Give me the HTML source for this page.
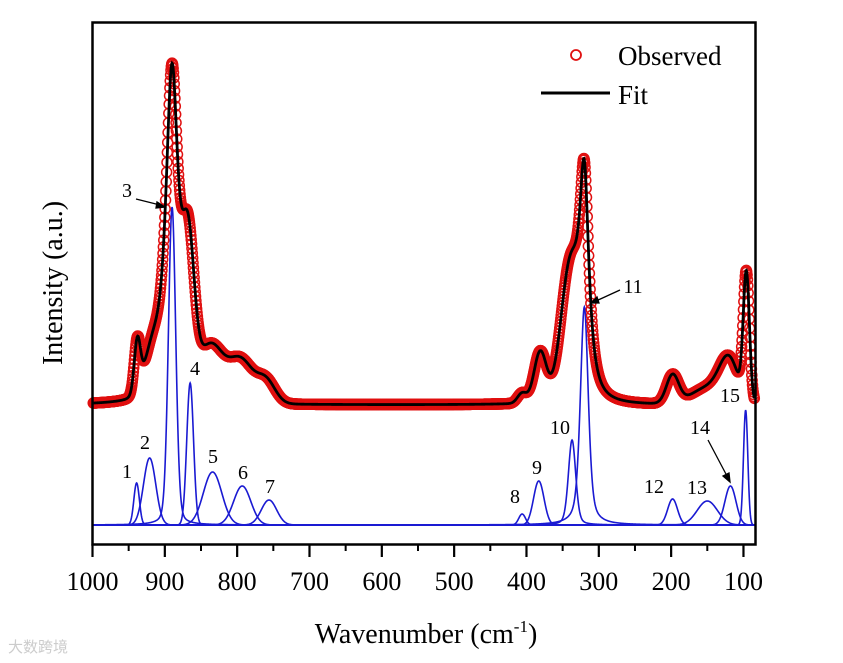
<!DOCTYPE html>
<html><head><meta charset="utf-8"><style>
html,body{margin:0;padding:0;background:#fff;}
svg{display:block;font-family:"Liberation Serif",serif;}
</style></head><body>
<svg id="chart" width="843" height="663" viewBox="0 0 843 663">
<g id="comps"></g>
<g id="obs"></g>
<g id="fit"></g>
<rect x="92.5" y="22.5" width="663" height="522" fill="none" stroke="#000" stroke-width="2.5"/>
<g id="xaxis"></g>
<text x="426" y="643" font-size="28" text-anchor="middle">Wavenumber (cm<tspan font-size="17" dy="-11">-1</tspan><tspan dy="11">)</tspan></text>
<text transform="translate(62,283) rotate(-90)" font-size="28" text-anchor="middle">Intensity (a.u.)</text>
<g>
<circle cx="576" cy="55" r="5" fill="none" stroke="#e01010" stroke-width="1.8"/>
<text x="618" y="65" font-size="27">Observed</text>
<line x1="541" y1="93" x2="610" y2="93" stroke="#000" stroke-width="3"/>
<text x="618" y="104" font-size="27">Fit</text>
</g>
<g id="annot" font-size="20" text-anchor="middle"></g>
<g stroke="#000" stroke-width="1.3">
<line x1="136" y1="199" x2="160" y2="205"/>
<polygon points="165,207 157,202 156,208" fill="#000"/>
<line x1="620" y1="290" x2="596" y2="301"/>
<polygon points="591,303 597,297 599,303" fill="#000"/>
<line x1="708" y1="440" x2="727" y2="476"/>
<polygon points="730,482 723,476 729,473" fill="#000"/>
</g>
<text x="8" y="652" font-size="15" fill="#ccc" font-family="'Liberation Sans','Noto Sans CJK SC',sans-serif">大数跨境</text>
</svg>
<script>
// component peaks (fitted), heights in intensity units
const compCenters = [939, 921, 890, 865, 834, 793, 756, 406, 383, 337, 320, 198, 150, 118, 97];
const compHeights = [42, 67, 318, 142, 53, 39, 25, 11, 44, 85, 218, 26, 24, 39, 115];
const compFwhm = [9, 20, 12, 11, 30, 28, 25, 11, 17, 12, 13, 16, 33, 18, 7];
const compLorentz = [0, 0, 0.2, 0, 0, 0, 0, 0, 0, 0.3, 0.5, 0, 0, 0, 0];
// observed spectrum peak model
const obsCenters = [938, 915, 890, 868, 836, 795, 760, 406, 381, 340, 320, 198, 145, 120, 96];
const obsHeights = [50, 45, 330, 140, 52, 42, 22, 10, 50, 120, 210, 28, 18, 38, 125];
const obsFwhm = [10, 30, 20, 20, 40, 40, 30, 15, 20, 30, 16, 20, 60, 30, 10];
const obsLorentz = [0, 0, 0.7, 0, 0, 0, 0, 0, 0, 0, 1, 0, 0, 0, 0];
const obsBaseline = 120;
const xTicks = [1000, 900, 800, 700, 600, 500, 400, 300, 200, 100];
const peakLabels = ["1","2","3","4","5","6","7","8","9","10","11","12","13","14","15"];
const labelPos = [[127,478],[145,449],[127,197],[195,375],[213,463],[243,479],[270,493],[515,503],[537,474],[560,434],[633,293],[654,493],[697,494],[700,434],[730,402]];

const NS = "http://www.w3.org/2000/svg";
const X0 = 92.5, PXPER = 0.7233, WMAX = 1000, WMIN = 84;
function xs(w){ return X0 + (WMAX - w) * PXPER; }
function ys(v){ return 525 - v; }
function peak(w, c, h, f, eta){
  const d = w - c, hw = f / 2;
  const g = Math.exp(-4 * Math.LN2 * d * d / (f * f));
  const l = hw * hw / (d * d + hw * hw);
  return h * ((1 - eta) * g + eta * l);
}
function obsVal(w){
  let s = obsBaseline;
  for (let i = 0; i < obsCenters.length; i++) s += peak(w, obsCenters[i], obsHeights[i], obsFwhm[i], obsLorentz[i]);
  return s;
}
const compsG = document.getElementById('comps');
for (let i = 0; i < compCenters.length; i++){
  let d = "";
  for (let w = WMAX; w >= WMIN; w -= 0.5){
    const v = peak(w, compCenters[i], compHeights[i], compFwhm[i], compLorentz[i]);
    d += (d ? "L" : "M") + xs(w).toFixed(2) + "," + ys(v).toFixed(2);
  }
  const p = document.createElementNS(NS, 'path');
  p.setAttribute('d', d);
  p.setAttribute('fill', 'none');
  p.setAttribute('stroke', '#1a1ad2');
  p.setAttribute('stroke-width', '1.6');
  
  
  compsG.appendChild(p);
}
const obsG = document.getElementById('obs');
for (let w = WMAX - 1; w >= WMIN + 1; w -= 0.5){
  const c = document.createElementNS(NS, 'circle');
  c.setAttribute('cx', xs(w).toFixed(2));
  c.setAttribute('cy', ys(obsVal(w)).toFixed(2));
  c.setAttribute('r', '5');
  c.setAttribute('fill', 'none');
  c.setAttribute('stroke', '#e01010');
  c.setAttribute('stroke-width', '1.5');
  
  
  obsG.appendChild(c);
}
let fd = "";
for (let w = WMAX - 1; w >= WMIN + 1; w -= 0.5){
  fd += (fd ? "L" : "M") + xs(w).toFixed(2) + "," + ys(obsVal(w)).toFixed(2);
}
const fp = document.createElementNS(NS, 'path');
fp.setAttribute('d', fd);
fp.setAttribute('fill', 'none');
fp.setAttribute('stroke', '#000');
fp.setAttribute('stroke-width', '2.8');


document.getElementById('fit').appendChild(fp);

const xa = document.getElementById('xaxis');
for (let i = 0; i < xTicks.length; i++){
  const x = xs(xTicks[i]);
  const t = document.createElementNS(NS, 'line');
  t.setAttribute('x1', x); t.setAttribute('x2', x);
  t.setAttribute('y1', 544); t.setAttribute('y2', 557);
  t.setAttribute('stroke', '#000'); t.setAttribute('stroke-width', '2.2');
  
  
  xa.appendChild(t);
  const lb = document.createElementNS(NS, 'text');
  lb.setAttribute('x', x); lb.setAttribute('y', 590);
  lb.setAttribute('font-size', '26'); lb.setAttribute('text-anchor', 'middle');
  lb.textContent = xTicks[i];
  
  
  xa.appendChild(lb);
  if (xTicks[i] - 50 > WMIN){
    const m = document.createElementNS(NS, 'line');
    const xm = xs(xTicks[i] - 50);
    m.setAttribute('x1', xm); m.setAttribute('x2', xm);
    m.setAttribute('y1', 544); m.setAttribute('y2', 551);
    m.setAttribute('stroke', '#000'); m.setAttribute('stroke-width', '2');
    
    
    xa.appendChild(m);
  }
}
const an = document.getElementById('annot');
for (let i = 0; i < peakLabels.length; i++){
  const t = document.createElementNS(NS, 'text');
  t.setAttribute('x', labelPos[i][0]); t.setAttribute('y', labelPos[i][1]);
  t.textContent = peakLabels[i];
  
  
  an.appendChild(t);
}
</script>
</body></html>
